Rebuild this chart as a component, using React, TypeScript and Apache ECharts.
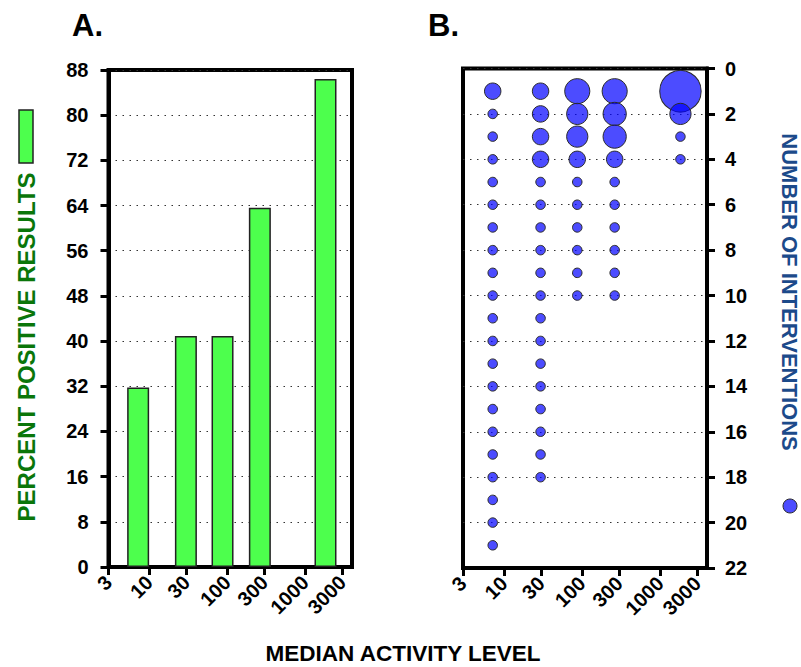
import React, { useEffect, useRef } from "react";
import * as echarts from "echarts";

// ---- data ----
const activityTicks = [3, 10, 30, 100, 300, 1000, 3000];
const medianActivity = [7.2, 29.5, 87, 262, 1820];
const percentPositive = [31.8, 40.9, 40.9, 63.6, 86.4];

// bubble weight for intervention #1, #2, ... in each activity column
const bubblesCol1 = [3, 1, 1, 1, 1, 1, 1, 1, 1, 1, 1, 1, 1, 1, 1, 1, 1, 1, 1, 1, 1];
const bubblesCol2 = [3, 3, 3, 3, 1, 1, 1, 1, 1, 1, 1, 1, 1, 1, 1, 1, 1, 1];
const bubblesCol3 = [7, 5, 5, 3, 1, 1, 1, 1, 1, 1];
const bubblesCol4 = [7, 6, 6, 3, 1, 1, 1, 1, 1, 1];
const bubblesCol5 = [19, 5, 1, 1];
const bubbleColumns = [bubblesCol1, bubblesCol2, bubblesCol3, bubblesCol4, bubblesCol5];

const FONT = "Liberation Sans, Arial, sans-serif";
const X_MIN = Math.log10(3);
const X_MAX = 3.6;
const BUBBLE_FILL = "rgba(0,0,255,0.7)";

function xAxisCfg(gridIndex: number) {
  const vals = activityTicks.map((v) => Math.log10(v));
  return {
    type: "value",
    gridIndex,
    min: X_MIN,
    max: X_MAX,
    axisLine: { show: true, onZero: false, lineStyle: { color: "#000", width: 4 } },
    axisTick: {
      show: true,
      inside: false,
      length: 8,
      customValues: vals,
      lineStyle: { color: "#000", width: 3 },
    },
    axisLabel: {
      show: true,
      customValues: vals,
      rotate: 45,
      margin: 12,
      color: "#000",
      fontFamily: FONT,
      fontWeight: "bold",
      fontSize: 20,
      formatter: (v: number) => String(Math.round(Math.pow(10, v))),
    },
    splitLine: { show: false },
  };
}

export default function App() {
  const ref = useRef<HTMLDivElement>(null);

  useEffect(() => {
    if (!ref.current) return;
    const chart = echarts.init(ref.current, undefined, { renderer: "svg" });

    const barData = medianActivity.map((m, i) => [Math.log10(m), percentPositive[i]]);
    const scatterData: number[][] = [];
    bubbleColumns.forEach((col, ci) => {
      col.forEach((w, j) => {
        scatterData.push([Math.log10(medianActivity[ci]), j + 1, w]);
      });
    });

    const dotted = { show: true, lineStyle: { color: "#333", width: 1.2, type: [1.5, 5.5] } };

    chart.setOption({
      animation: false,
      grid: [
        { left: 108.5, top: 70, width: 243.5, height: 497, show: true, borderColor: "#000", borderWidth: 4 },
        { left: 463, top: 68.5, width: 244, height: 499.5, show: true, borderColor: "#000", borderWidth: 4 },
      ],
      xAxis: [xAxisCfg(0), xAxisCfg(1)],
      yAxis: [
        {
          type: "value",
          gridIndex: 0,
          min: 0,
          max: 88,
          interval: 8,
          axisLine: { show: true, lineStyle: { color: "#000", width: 4 } },
          axisTick: { show: true, inside: false, length: 8, lineStyle: { color: "#000", width: 3 } },
          axisLabel: { margin: 20, color: "#000", fontFamily: FONT, fontWeight: "bold", fontSize: 20 },
          splitLine: dotted,
        },
        {
          type: "value",
          gridIndex: 1,
          position: "right",
          inverse: true,
          min: 0,
          max: 22,
          interval: 2,
          axisLine: { show: true, lineStyle: { color: "#000", width: 4 } },
          axisTick: { show: true, inside: false, length: 8, lineStyle: { color: "#000", width: 3 } },
          axisLabel: { margin: 18, color: "#000", fontFamily: FONT, fontWeight: "bold", fontSize: 20 },
          splitLine: dotted,
        },
      ],
      series: [
        {
          type: "bar",
          xAxisIndex: 0,
          yAxisIndex: 0,
          data: barData,
          barWidth: 22,
          itemStyle: { color: "#4dff4d", borderColor: "#222", borderWidth: 1.5 },
        },
        {
          type: "scatter",
          xAxisIndex: 1,
          yAxisIndex: 1,
          data: scatterData,
          symbol: "circle",
          symbolSize: (d: number[]) => 9.5 * Math.sqrt(d[2]),
          itemStyle: { color: BUBBLE_FILL, opacity: 1, borderColor: "#2a2a2a", borderWidth: 1 },
        },
      ],
      graphic: [
        { type: "text", left: 72, top: 10, style: { text: "A.", font: `bold 31px ${FONT}`, fill: "#000" } },
        { type: "text", left: 428, top: 10, style: { text: "B.", font: `bold 31px ${FONT}`, fill: "#000" } },
        {
          type: "rect",
          shape: { x: 19, y: 110, width: 14, height: 53 },
          style: { fill: "#4dff4d", stroke: "#222", lineWidth: 1.5 },
        },
        {
          type: "text",
          x: 26,
          y: 347,
          rotation: Math.PI / 2,
          style: {
            text: "PERCENT POSITIVE RESULTS",
            font: `bold 24px ${FONT}`,
            fill: "#0a760a",
            align: "center",
            verticalAlign: "middle",
          },
        },
        {
          type: "text",
          x: 789,
          y: 292,
          rotation: -Math.PI / 2,
          style: {
            text: "NUMBER OF INTERVENTIONS",
            font: `bold 22px ${FONT}`,
            fill: "#1c4a8a",
            align: "center",
            verticalAlign: "middle",
          },
        },
        {
          type: "circle",
          shape: { cx: 790, cy: 506, r: 7 },
          style: { fill: BUBBLE_FILL, stroke: "#2a2a2a", lineWidth: 1 },
        },
        {
          type: "text",
          x: 403,
          y: 653,
          style: {
            text: "MEDIAN ACTIVITY LEVEL",
            font: `bold 22.5px ${FONT}`,
            fill: "#000",
            align: "center",
            verticalAlign: "middle",
          },
        },
      ],
    });

    return () => chart.dispose();
  }, []);

  return (
    <div
      ref={ref}
      style={{ position: "absolute", left: 0, top: 0, width: 801, height: 667, background: "#fff" }}
    />
  );
}
